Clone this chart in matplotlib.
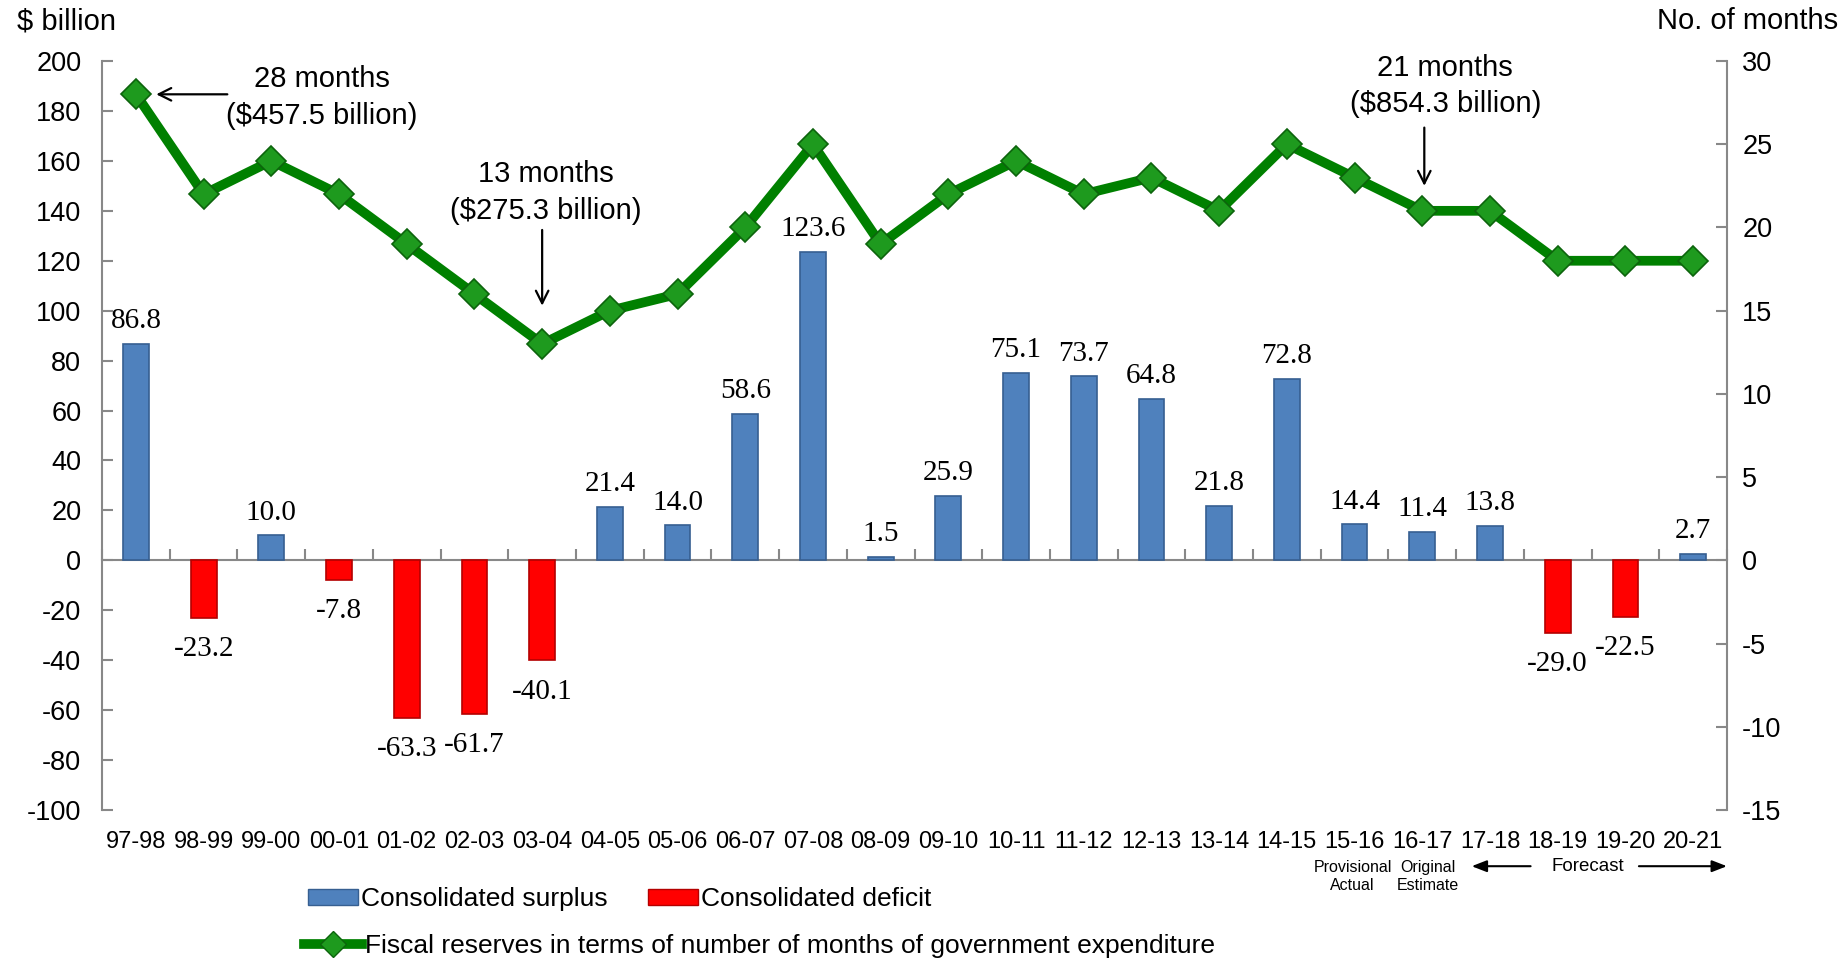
import numpy as np
import matplotlib.pyplot as plt
from matplotlib.patches import Patch
from matplotlib.lines import Line2D

years = ["97-98", "98-99", "99-00", "00-01", "01-02", "02-03", "03-04", "04-05",
         "05-06", "06-07", "07-08", "08-09", "09-10", "10-11", "11-12", "12-13",
         "13-14", "14-15", "15-16", "16-17", "17-18", "18-19", "19-20", "20-21"]
balance = [86.8, -23.2, 10.0, -7.8, -63.3, -61.7, -40.1, 21.4, 14.0, 58.6, 123.6, 1.5,
           25.9, 75.1, 73.7, 64.8, 21.8, 72.8, 14.4, 11.4, 13.8, -29.0, -22.5, 2.7]
months = [28, 22, 24, 22, 19, 16, 13, 15, 16, 20, 25, 19,
          22, 24, 22, 23, 21, 25, 23, 21, 21, 18, 18, 18]

left_ticks = list(range(-100, 201, 20))
right_ticks = list(range(-15, 31, 5))

plt.rcParams['font.family'] = ['Liberation Sans', 'DejaVu Sans']
plt.rcParams['axes.unicode_minus'] = False
serif = ['Liberation Serif', 'DejaVu Serif']
grey = '#888888'
blue, blue_edge = '#4F81BD', '#365F91'
red, red_edge = '#FF0000', '#B40000'
green = '#008000'

fig = plt.figure(figsize=(18.46, 9.61), dpi=100)
ax = fig.add_axes([0.0553, 0.1571, 0.8802, 0.7794])
ax2 = ax.twinx()

x = np.arange(len(years))
bal = np.array(balance)
pos = bal >= 0
ax.bar(x, bal, width=0.38, color=np.where(pos, blue, red),
       edgecolor=np.where(pos, blue_edge, red_edge), linewidth=1.2, zorder=3)

for i, v in enumerate(balance):
    ax.annotate(f"{v:.1f}", xy=(i, v), xytext=(0, 7 if v >= 0 else -13),
                textcoords='offset points', ha='center',
                va='bottom' if v >= 0 else 'top', fontsize=21, family=serif)

ax.set_xlim(-0.5, len(years) - 0.5)
ax.set_ylim(left_ticks[0], left_ticks[-1])
ax.set_yticks(left_ticks)
ax.set_xticks(x)
ax.set_xticklabels(years)
ax.tick_params(axis='x', length=0, labelsize=17, pad=15)
ax.tick_params(axis='y', direction='in', length=8, width=1.5, colors=grey,
               labelcolor='black', labelsize=19.5, pad=15)
for s in ['top', 'bottom', 'right']:
    ax.spines[s].set_visible(False)
ax.spines['left'].set_color(grey)
ax.spines['left'].set_linewidth(1.5)

# zero line with category boundary ticks
zero_frac = (0 - left_ticks[0]) / (left_ticks[-1] - left_ticks[0])
zax = ax.secondary_xaxis(zero_frac)
zax.set_xticks(np.arange(len(years) + 1) - 0.5)
zax.tick_params(axis='x', direction='in', length=8, width=1.5, colors=grey,
                labelbottom=False, labeltop=False)
zax.spines['bottom'].set_color(grey)
zax.spines['bottom'].set_linewidth(1.5)

ax2.plot(x, months, color=green, lw=7, marker='D', ms=15,
         markerfacecolor='#1E9A1E', markeredgecolor='#0C640C', markeredgewidth=1.2,
         zorder=4)
ax2.set_ylim(right_ticks[0], right_ticks[-1])
ax2.set_yticks(right_ticks)
ax2.tick_params(axis='y', direction='in', length=8, width=1.5, colors=grey,
                labelcolor='black', labelsize=19.5, pad=11)
for s in ['top', 'bottom', 'left']:
    ax2.spines[s].set_visible(False)
ax2.spines['right'].set_color(grey)
ax2.spines['right'].set_linewidth(1.5)

fig.text(17 / 1846, 1 - 21 / 961, "$ billion", fontsize=21, va='center', ha='left')
fig.text(1838 / 1846, 1 - 21 / 961, "No. of months", fontsize=21, va='center', ha='right')

# annotations
arrow = dict(arrowstyle='->,head_length=0.9,head_width=0.45', lw=1.6, color='black',
             shrinkA=0, shrinkB=0)
ax2.text(2.75, 27.8, "28 months\n($457.5 billion)", ha='center', va='center',
         fontsize=21, linespacing=1.4)
ax2.annotate("", xy=(0.3, 28.0), xytext=(1.35, 28.0), arrowprops=arrow)

ax2.text(6.05, 22.1, "13 months\n($275.3 billion)", ha='center', va='center',
         fontsize=21, linespacing=1.4)
ax2.annotate("", xy=(6.0, 15.3), xytext=(6.0, 19.85), arrowprops=arrow)

ax2.text(19.34, 28.5, "21 months\n($854.3 billion)", ha='center', va='center',
         fontsize=21, linespacing=1.4)
ax2.annotate("", xy=(19.03, 22.5), xytext=(19.03, 26.0), arrowprops=arrow)

# forecast notes under the axis
blend = ax.get_xaxis_transform()
ax.text(17.97, -0.089, "Provisional\nActual", transform=blend, ha='center', va='center',
        fontsize=11.5, linespacing=1.25)
ax.text(19.09, -0.089, "Original\nEstimate", transform=blend, ha='center', va='center',
        fontsize=11.5, linespacing=1.25)
ax.text(21.45, -0.075, "Forecast", transform=blend, ha='center', va='center', fontsize=13.5)
farrow = dict(arrowstyle='-|>,head_length=0.9,head_width=0.35', lw=1.5, color='black',
              shrinkA=0, shrinkB=0)
ax.annotate("", xy=(19.73, -0.075), xytext=(20.6, -0.075), xycoords=blend,
            textcoords=blend, arrowprops=farrow, annotation_clip=False)
ax.annotate("", xy=(23.5, -0.075), xytext=(22.2, -0.075), xycoords=blend,
            textcoords=blend, arrowprops=farrow, annotation_clip=False)

# legends
h_bars = [Patch(facecolor=blue, edgecolor=blue_edge, label="Consolidated surplus"),
          Patch(facecolor=red, edgecolor=red_edge, label="Consolidated deficit")]
fig.legend(handles=h_bars, loc='center left', bbox_to_anchor=(308 / 1846, 1 - 899 / 961),
           ncol=2, frameon=False, fontsize=19, handlelength=1.9, handleheight=0.55,
           handletextpad=0.1, columnspacing=1.55, borderpad=0, borderaxespad=0)
h_line = [Line2D([0], [0], color=green, lw=7, marker='D', ms=13, markerfacecolor='#1E9A1E',
                 markeredgecolor='#0C640C',
                 label="Fiscal reserves in terms of number of months of government expenditure")]
fig.legend(handles=h_line, loc='center left', bbox_to_anchor=(304 / 1846, 1 - 946 / 961),
           frameon=False, fontsize=19, handlelength=2.2, handletextpad=0.1,
           borderpad=0, borderaxespad=0)

fig.savefig("out.png", dpi=100)
